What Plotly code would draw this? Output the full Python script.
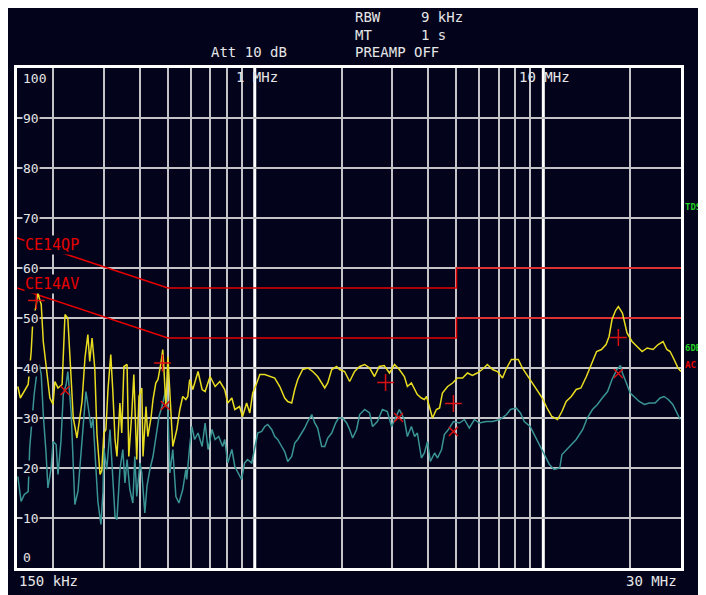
import math
import plotly.graph_objects as go

# ---------------- data ----------------
# limit lines (MHz, dBuV)
qp_limit_f = [0.15, 0.5, 5.0, 5.0, 30.0]
qp_limit_db = [66, 56, 56, 60, 60]
av_limit_f = [0.15, 0.5, 5.0, 5.0, 30.0]
av_limit_db = [56, 46, 46, 50, 50]

# peak trace (yellow)
peak_f = [0.151, 0.154, 0.164, 0.168, 0.170, 0.175, 0.177, 0.182, 0.185, 0.190, 0.195, 0.200, 0.203, 0.208,
          0.215, 0.220, 0.225, 0.231, 0.235, 0.242, 0.246, 0.252, 0.258, 0.264, 0.268, 0.273, 0.279, 0.284,
          0.291, 0.295, 0.300, 0.305, 0.310, 0.317, 0.322, 0.328, 0.333, 0.341, 0.346, 0.352, 0.361, 0.366,
          0.375, 0.381, 0.390, 0.397, 0.406, 0.410, 0.420, 0.426, 0.437, 0.444, 0.454, 0.462, 0.473, 0.480,
          0.484, 0.492, 0.500, 0.512, 0.520, 0.537, 0.550, 0.563, 0.577, 0.586, 0.595, 0.610, 0.636, 0.657,
          0.673, 0.700, 0.729, 0.757, 0.787, 0.806, 0.833, 0.853, 0.886, 0.907, 0.937, 0.961, 0.984, 1.016,
          1.041, 1.083, 1.127, 1.173, 1.221, 1.270, 1.301, 1.343, 1.376, 1.409, 1.466, 1.526, 1.588, 1.652,
          1.706, 1.748, 1.790, 1.848, 1.922, 1.968, 2.048, 2.132, 2.218, 2.310, 2.404, 2.50, 2.60, 2.70,
          2.81, 2.93, 3.05, 3.17, 3.30, 3.38, 3.49, 3.58, 3.66, 3.78, 3.87, 3.94, 4.03, 4.13, 4.26, 4.37,
          4.47, 4.66, 4.85, 5.04, 5.25, 5.46, 5.68, 5.90, 6.14, 6.40, 6.67, 6.94, 7.22, 7.46, 7.75, 8.19,
          8.46, 8.86, 9.22, 9.53, 9.92, 10.3, 10.7, 11.2, 11.6, 12.0, 12.5, 13.0, 13.5, 14.1, 14.7, 15.3,
          15.9, 16.5, 16.9, 17.3, 17.8, 18.2, 18.8, 19.1, 19.5, 20.3, 21.1, 22.0, 22.9, 24.0, 25.0, 26.0,
          26.8, 27.5, 28.4, 29.3, 30.0]
peak_db = [36.3, 34.0, 36.7, 43.3, 49.0, 52.7, 55.0, 52.7, 45.3, 40.0, 34.0, 32.7, 37.3, 36.0,
           36.7, 50.7, 50.0, 38.0, 30.0, 26.0, 28.7, 33.3, 42.0, 46.7, 41.3, 46.0, 40.0, 26.7,
           18.7, 19.5, 27.0, 27.7, 35.7, 42.7, 35.7, 25.7, 22.3, 33.0, 27.0, 40.3, 40.7, 22.3,
           31.0, 38.7, 21.7, 34.3, 36.0, 22.3, 32.3, 26.3, 30.0, 33.7, 37.0, 37.7, 41.0, 43.7,
           40.3, 32.3, 42.3, 31.0, 24.3, 27.7, 31.7, 34.3, 33.7, 34.3, 37.7, 35.7, 39.3, 35.7,
           35.3, 38.3, 36.3, 37.3, 35.7, 33.0, 34.0, 31.7, 32.3, 30.3, 33.0, 31.0, 35.0, 37.0,
           38.7, 38.7, 38.3, 38.0, 36.3, 34.0, 33.3, 33.0, 35.7, 37.7, 39.7, 40.0, 39.3, 38.3,
           37.0, 36.0, 37.0, 39.7, 40.3, 39.7, 39.3, 37.3, 39.3, 40.3, 40.7, 40.0, 38.3, 40.3,
           40.5, 39.0, 40.7, 39.7, 38.3, 36.3, 37.0, 35.7, 34.7, 34.0, 33.7, 34.3, 32.3, 30.0, 31.7, 32.0,
           35.0, 36.3, 37.0, 38.0, 38.0, 39.0, 38.5, 39.0, 39.7, 40.7, 39.7, 39.3, 38.0, 40.0, 41.7, 41.7,
           40.0, 38.3, 36.7, 35.7, 34.0, 32.0, 30.3, 29.7, 31.3, 33.3, 34.3, 35.7, 36.0, 38.3, 40.7, 43.3,
           43.7, 44.7, 46.3, 49.7, 51.5, 52.3, 51.0, 49.0, 47.0, 45.3, 44.3, 43.3, 44.0, 43.7, 44.7, 45.3,
           43.7, 43.3, 41.7, 40.0, 39.3]

# average trace (teal)
avg_f = [0.151, 0.155, 0.159, 0.164, 0.166, 0.169, 0.172, 0.176, 0.179, 0.182, 0.185, 0.189, 0.192, 0.197,
         0.200, 0.205, 0.208, 0.213, 0.217, 0.222, 0.225, 0.231, 0.235, 0.238, 0.244, 0.250, 0.254, 0.260,
         0.264, 0.271, 0.275, 0.282, 0.286, 0.293, 0.298, 0.300, 0.307, 0.315, 0.322, 0.328, 0.333, 0.341,
         0.349, 0.355, 0.361, 0.369, 0.378, 0.384, 0.390, 0.400, 0.406, 0.416, 0.423, 0.433, 0.444, 0.451,
         0.458, 0.466, 0.477, 0.484, 0.492, 0.500, 0.508, 0.520, 0.533, 0.546, 0.563, 0.577, 0.581, 0.595,
         0.605, 0.619, 0.636, 0.657, 0.673, 0.689, 0.711, 0.729, 0.750, 0.774, 0.787, 0.806, 0.833, 0.853,
         0.872, 0.900, 0.922, 0.944, 0.976, 1.000, 1.024, 1.057, 1.083, 1.109, 1.145, 1.173, 1.201, 1.240,
         1.270, 1.301, 1.343, 1.376, 1.409, 1.454, 1.490, 1.526, 1.576, 1.614, 1.652, 1.706, 1.748, 1.790,
         1.848, 1.906, 1.952, 2.016, 2.082, 2.132, 2.184, 2.254, 2.310, 2.404, 2.50, 2.56, 2.66, 2.77,
         2.88, 2.98, 3.05, 3.17, 3.30, 3.38, 3.49, 3.58, 3.66, 3.78, 3.87, 3.97, 4.06, 4.20, 4.30, 4.44,
         4.54, 4.69, 4.88, 5.12, 5.33, 5.54, 5.77, 6.00, 6.34, 6.67, 7.06, 7.46, 7.69, 8.06, 8.33, 8.59,
         9.00, 9.37, 9.69, 10.1, 10.5, 10.9, 11.4, 11.6, 12.3, 13.0, 13.7, 14.2, 14.8, 15.4, 16.0, 16.7,
         17.3, 18.0, 18.5, 18.8, 19.4, 20.0, 20.6, 21.5, 22.4, 23.3, 24.4, 25.4, 26.2, 27.1, 28.1, 29.1, 29.8]
avg_db = [18.3, 13.3, 14.7, 15.3, 24.0, 30.0, 34.7, 39.3, 40.7, 38.7, 30.7, 23.3, 16.0, 20.0,
          25.3, 24.7, 18.7, 25.3, 34.7, 36.7, 39.3, 31.3, 22.0, 12.7, 15.3, 23.3, 28.7, 35.3,
          32.7, 28.0, 30.0, 19.3, 13.3, 8.7, 15.3, 24.0, 19.7, 27.7, 17.7, 10.3, 9.7, 19.7,
          23.7, 17.0, 21.7, 15.7, 13.0, 22.3, 14.3, 21.0, 19.0, 11.0, 16.3, 19.7, 22.3, 25.0,
          27.0, 30.3, 32.3, 33.7, 35.7, 31.7, 19.0, 23.7, 14.3, 13.0, 15.7, 19.7, 17.7, 24.3,
          28.3, 25.7, 27.0, 24.3, 29.0, 23.7, 27.7, 25.7, 26.3, 24.3, 25.7, 21.0, 23.7, 20.3,
          19.3, 17.7, 21.0, 21.7, 21.0, 24.3, 27.0, 27.3, 28.3, 28.7, 27.7, 26.3, 25.7, 24.3,
          23.3, 21.3, 22.3, 25.0, 25.7, 27.0, 28.0, 29.3, 30.7, 29.0, 28.0, 24.3, 24.3, 26.0,
          27.0, 29.0, 30.0, 30.0, 29.0, 27.7, 26.0, 27.7, 30.7, 31.7, 31.0, 28.3, 29.3, 31.7,
          31.3, 28.3, 29.7, 31.7, 29.7, 26.3, 28.3, 26.3, 27.0, 22.0, 23.0, 25.3, 21.3, 23.0, 22.0, 23.7,
          26.7, 27.7, 29.3, 29.0, 29.7, 28.0, 29.7, 29.0, 29.3, 29.3, 29.7, 30.7, 31.7, 32.0, 31.0, 29.3,
          28.3, 26.3, 24.7, 22.7, 20.7, 19.7, 20.0, 22.7, 24.3, 25.7, 27.7, 30.0, 31.7, 32.7, 34.0, 35.3,
          37.7, 39.7, 40.5, 39.0, 37.0, 35.0, 34.3, 33.3, 32.7, 33.0, 33.0, 34.0, 34.3, 33.7, 32.7, 31.0, 29.7]

# marker readings
peak_mark_f = [0.175, 0.479, 2.84, 4.88, 18.2]
peak_mark_db = [53.5, 41.0, 37.1, 32.9, 46.1]
avg_mark_f = [0.220, 0.490, 3.15, 4.88, 18.2]
avg_mark_db = [35.5, 32.5, 30.1, 27.3, 38.9]

minor_grid_f = [0.2, 0.3, 0.4, 0.5, 0.6, 0.7, 0.8, 0.9, 2, 3, 4, 5, 6, 7, 8, 9, 20]
major_grid_f = [1, 10]
y_grid = [10, 20, 30, 40, 50, 60, 70, 80, 90]
y_labels = ['100', '90', '80', '70', '60', '50', '40', '30', '20', '10', '0']
y_label_vals = [100, 90, 80, 70, 60, 50, 40, 30, 20, 10, 0]

# ---------------- style ----------------
BG = '#03031c'
GRID = '#c4c4c8'
TXT = '#e6e6e6'
YEL = '#e8dc20'
TEAL = '#3a9494'
RED = '#e60000'
GREEN = '#22d022'
MONO = 'DejaVu Sans Mono'

# pixel -> paper helpers (plot frame: x 17..681, y 68..568 on screen)
X0, X1, Y0, Y1 = 17, 681, 68, 568
def px(x):
    return (x - X0) / (X1 - X0)
def py(y):
    return (Y1 - y) / (Y1 - Y0)

fig = go.Figure()
fig.add_trace(go.Scatter(x=qp_limit_f, y=qp_limit_db, mode='lines', line=dict(color=RED, width=1.6), hoverinfo='skip'))
fig.add_trace(go.Scatter(x=av_limit_f, y=av_limit_db, mode='lines', line=dict(color=RED, width=1.6), hoverinfo='skip'))
fig.add_trace(go.Scatter(x=avg_f, y=avg_db, mode='lines', line=dict(color=TEAL, width=1.5)))
fig.add_trace(go.Scatter(x=peak_f, y=peak_db, mode='lines', line=dict(color=YEL, width=1.5)))
fig.add_trace(go.Scatter(x=peak_mark_f, y=peak_mark_db, mode='markers',
                         marker=dict(symbol='cross-thin', size=12, line=dict(color='#d81010', width=1.5))))
fig.add_trace(go.Scatter(x=avg_mark_f, y=avg_mark_db, mode='markers',
                         marker=dict(symbol='x-thin', size=9, line=dict(color='#d81010', width=1.5))))

shapes = []
for f in major_grid_f:
    shapes.append(dict(type='line', xref='x', yref='paper', x0=f, x1=f, y0=0, y1=1,
                       line=dict(color='white', width=3), layer='below'))
fig.update_layout(shapes=shapes)

ann = []
def add_text(text, x, y, color=TXT, size=14, xanchor='left', yanchor='middle', bg=None, bold=False, yref='paper'):
    d = dict(text=('<b>%s</b>' % text) if bold else text, x=x, y=y, xref='paper', yref=yref,
             showarrow=False, xanchor=xanchor, yanchor=yanchor,
             font=dict(family=MONO, size=size, color=color), borderpad=0)
    if bg:
        d['bgcolor'] = bg
    ann.append(d)

# header
add_text('RBW', px(354), py(17))
add_text('9 kHz', px(420), py(17))
add_text('MT', px(354), py(35))
add_text('1 s', px(420), py(35))
add_text('Att 10 dB', px(210), py(52))
add_text('PREAMP OFF', px(354), py(52))
# frequency marks
add_text('1 MHz', px(235), py(77))
add_text('10 MHz', px(518), py(77))
add_text('150 kHz', px(18), py(581))
add_text('30 MHz', px(625), py(581))
# limit labels (drawn before y labels so the "60" stays visible)
add_text('CE14QP', px(24), py(245), color=RED, size=15, bg=BG)
add_text('CE14AV', px(24), py(284), color=RED, size=15, bg=BG)
# y labels
for lab, v in zip(y_labels, y_label_vals):
    if v == 100:
        add_text(lab, px(22), py(78), size=13, bg=BG)
    elif v == 0:
        add_text(lab, px(22), py(557), size=13, bg=BG)
    else:
        add_text(lab, px(22), v, size=13, bg=BG, yref='y')
# right side labels
add_text('TDS', px(684), py(207), color=GREEN, size=9, bold=True)
add_text('6DB', px(684), py(348), color=GREEN, size=9, bold=True)
add_text('AC', px(684), py(365), color=RED, size=9, bold=True)

fig.update_layout(
    annotations=ann,
    width=706, height=595,
    margin=dict(l=9, r=33, t=60, b=35, pad=0),
    paper_bgcolor=BG, plot_bgcolor=BG,
    showlegend=False,
)
fig.update_xaxes(type='log', range=[math.log10(0.15), math.log10(30)], tickvals=minor_grid_f,
                 showgrid=True, gridcolor=GRID, gridwidth=1.6, showticklabels=False, ticks='',
                 zeroline=False, showline=True, mirror=True, linecolor='white', linewidth=3)
fig.update_yaxes(range=[0, 100], tickvals=y_grid, showgrid=True, gridcolor=GRID, gridwidth=1.6,
                 showticklabels=False, ticks='', zeroline=False, showline=True, mirror=True,
                 linecolor='white', linewidth=3)

fig.write_html('out.html')
